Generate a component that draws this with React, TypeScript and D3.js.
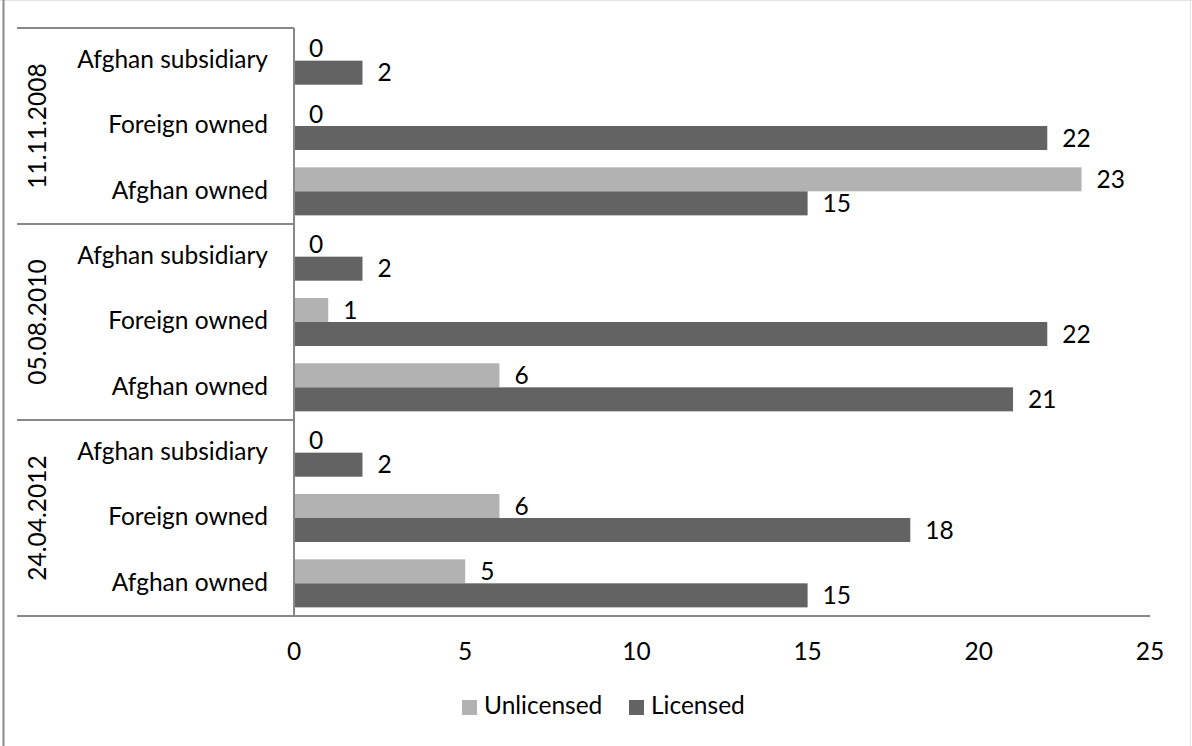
import React from "react";
import * as d3 from "d3";

const groups = ["11.11.2008", "05.08.2010", "24.04.2012"];
const categories = ["Afghan subsidiary", "Foreign owned", "Afghan owned"];
const seriesNames = ["Unlicensed", "Licensed"];
const unlicensed = [
  [0, 0, 23],
  [0, 1, 6],
  [0, 6, 5],
];
const licensed = [
  [2, 22, 15],
  [2, 22, 21],
  [2, 18, 15],
];
const xTicks = [0, 5, 10, 15, 20, 25];

const W = 1192;
const H = 746;
const FONT = "Lato, 'Open Sans', sans-serif";
const FS = 24.5;
const colors = { Unlicensed: "#b2b2b2", Licensed: "#636363" };
const axisColor = "#888888";

export default function App() {
  const left = 294;
  const right = 1150;
  const top = 28;
  const bottom = 616;
  const labelLeft = 17;

  const x = d3.scaleLinear().domain([0, 25]).range([left, right]);
  const rows: { g: number; c: number }[] = [];
  groups.forEach((_, gi) => categories.forEach((_, ci) => rows.push({ g: gi, c: ci })));
  const y = d3
    .scaleBand<string>()
    .domain(rows.map((r) => `${r.g}-${r.c}`))
    .range([top, bottom])
    .padding(0);
  const inner = d3
    .scaleBand<string>()
    .domain(seriesNames)
    .range([0, y.bandwidth()])
    .paddingInner(0)
    .paddingOuter(0.36);
  const groupH = (bottom - top) / groups.length;

  const bars: React.ReactNode[] = [];
  rows.forEach((r, i) => {
    const y0 = y(`${r.g}-${r.c}`)!;
    seriesNames.forEach((s) => {
      const v = s === "Unlicensed" ? unlicensed[r.g][r.c] : licensed[r.g][r.c];
      const by = y0 + inner(s)!;
      const bh = inner.bandwidth();
      bars.push(
        <rect
          key={`b${i}${s}`}
          x={x(0)}
          y={by}
          width={x(v) - x(0)}
          height={bh}
          fill={(colors as any)[s]}
        />
      );
      bars.push(
        <text
          key={`t${i}${s}`}
          x={x(v) + 15}
          y={by + bh / 2}
          dy="0.35em"
          fontSize={FS}
          fontFamily={FONT}
          fill="#000"
        >
          {v}
        </text>
      );
    });
  });

  return (
    <svg
      width={W}
      height={H}
      style={{ position: "absolute", left: 0, top: 0, background: "#fff" }}
    >
      <rect x={0} y={0} width={W} height={H} fill="#fff" />
      <line x1={0} x2={W} y1={0.5} y2={0.5} stroke="#e3e3e3" />
      <line x1={W - 1.5} x2={W - 1.5} y1={0} y2={H} stroke="#e3e3e3" />
      <line x1={3.5} x2={3.5} y1={0} y2={H} stroke="#8a8a8a" strokeWidth={2} />

      {bars}

      {/* group separators */}
      {d3.range(groups.length + 1).map((k) => (
        <line
          key={`sep${k}`}
          x1={labelLeft}
          x2={k === groups.length ? right : left}
          y1={top + k * groupH}
          y2={top + k * groupH}
          stroke={axisColor}
          strokeWidth={2}
        />
      ))}
      <line x1={left} x2={left} y1={top} y2={bottom} stroke={axisColor} strokeWidth={2} />

      {/* category labels */}
      {rows.map((r, i) => (
        <text
          key={`cl${i}`}
          x={268}
          y={y(`${r.g}-${r.c}`)! + y.bandwidth() / 2}
          dy="0.3em"
          textAnchor="end"
          fontSize={FS}
          fontFamily={FONT}
          fill="#000"
        >
          {categories[r.c]}
        </text>
      ))}

      {/* group labels */}
      {groups.map((g, gi) => {
        const cy = top + gi * groupH + groupH / 2;
        return (
          <text
            key={`g${gi}`}
            transform={`translate(37,${cy}) rotate(-90)`}
            textAnchor="middle"
            dy="0.35em"
            fontSize={FS}
            fontFamily={FONT}
            fill="#000"
          >
            {g}
          </text>
        );
      })}

      {/* x ticks */}
      {xTicks.map((t) => (
        <text
          key={`xt${t}`}
          x={x(t)}
          y={651}
          dy="0.35em"
          textAnchor="middle"
          fontSize={FS}
          fontFamily={FONT}
          fill="#000"
        >
          {t}
        </text>
      ))}

      {/* legend */}
      {seriesNames.map((s, i) => {
        const lx = i === 0 ? 462 : 629;
        return (
          <g key={`lg${s}`}>
            <rect x={lx} y={700} width={15} height={15} fill={(colors as any)[s]} />
            <text x={lx + 22} y={714} fontSize={FS} fontFamily={FONT} fill="#000">
              {s}
            </text>
          </g>
        );
      })}
    </svg>
  );
}
